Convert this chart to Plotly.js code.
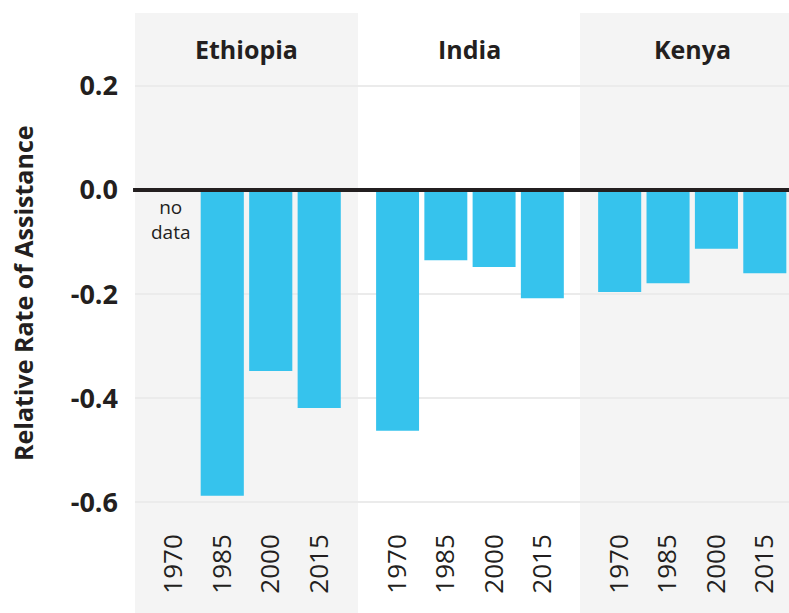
<!DOCTYPE html>
<html>
<head>
<meta charset="utf-8">
<script src="https://cdn.plot.ly/plotly-3.0.1.min.js"></script>
<style>
html,body{margin:0;padding:0;background:#fff;}
#chart{width:789px;height:613px;}
</style>
</head>
<body>
<div id="chart"></div>
<script>
// ---- data ----
const years = ['1970', '1985', '2000', '2015'];
const countries = ['Ethiopia', 'India', 'Kenya'];
const ethiopia = [null, -0.588, -0.348, -0.419];
const india = [-0.463, -0.135, -0.148, -0.208];
const kenya = [-0.196, -0.179, -0.113, -0.160];
const yTickVals = [0.2, 0.0, -0.2, -0.4, -0.6];
const yTickText = ['0.2', '0.0', '-0.2', '-0.4', '-0.6'];
const yTitle = 'Relative Rate of Assistance';
const noDataLabel = 'no<br>data';

// ---- styling ----
const FONT = '"Open Sans", Lato, sans-serif';
const INK = '#231f20';
const BAR = '#36c3ed';
const PANEL = '#f4f4f4';

const series = [ethiopia, india, kenya];
const axisIds = ['x', 'x2', 'x3'];
const W = 654; // plot width in px (789 - 135)
const H = 500; // plot height in px
const doms = [[0, 223 / W], [223 / W, 445 / W], [445 / W, 1]];
const ranges = [[-0.8, 3.8], [-0.82, 3.78], [-0.82, 3.5]];

const traces = series.map((vals, i) => ({
  type: 'bar',
  x: years,
  y: vals,
  xaxis: axisIds[i],
  yaxis: 'y',
  marker: {color: BAR, line: {width: 0}},
  hoverinfo: 'x+y',
  showlegend: false
}));

const layout = {
  width: 789,
  height: 613,
  margin: {l: 135, r: 0, t: 13, b: 100},
  paper_bgcolor: '#ffffff',
  plot_bgcolor: 'rgba(0,0,0,0)',
  bargap: 0.11,
  font: {family: FONT, color: INK},
  yaxis: {
    range: [-0.621, 0.3404],
    tickvals: yTickVals,
    ticktext: yTickText,
    tickfont: {family: FONT, size: 27, color: INK, weight: 'bold'},
    showgrid: true,
    gridcolor: '#ebebeb',
    gridwidth: 2,
    zeroline: false,
    showline: false,
    ticks: '',
    ticklabelstandoff: 16,
    anchor: 'x'
  },
  shapes: [],
  annotations: []
};

axisIds.forEach((id, i) => {
  const key = 'xaxis' + (i === 0 ? '' : (i + 1));
  layout[key] = {
    type: 'category',
    categoryorder: 'array',
    categoryarray: years,
    domain: doms[i],
    range: ranges[i],
    anchor: 'y',
    tickangle: -90,
    tickfont: {family: FONT, size: 26, color: INK},
    ticks: '',
    ticklabelstandoff: 15,
    showgrid: false,
    zeroline: false,
    showline: false,
    fixedrange: true
  };
  if (i !== 1) {
    layout.shapes.push({
      type: 'rect', layer: 'below',
      xref: 'paper', yref: 'paper',
      x0: doms[i][0], x1: doms[i][1],
      y0: -0.21, y1: 1,
      fillcolor: PANEL, line: {width: 0}
    });
  }
  layout.annotations.push({
    text: countries[i],
    xref: 'paper', yref: 'paper',
    x: (doms[i][0] + doms[i][1]) / 2 + (i === 2 ? 0.012 : 0),
    y: 0.928,
    xanchor: 'center', yanchor: 'middle',
    showarrow: false,
    font: {family: FONT, size: 25, color: INK, weight: 'bold'}
  });
});

// y-axis title (placed lower than the plot centre, as in the reference)
layout.annotations.push({
  text: yTitle,
  xref: 'paper', yref: 'paper',
  x: (23 - 135) / W, y: (513 - 293) / H,
  xanchor: 'center', yanchor: 'middle',
  textangle: -90,
  showarrow: false,
  font: {family: FONT, size: 25, color: INK, weight: 'bold'}
});

// zero line above bars
layout.shapes.push({
  type: 'line', layer: 'above',
  xref: 'paper', yref: 'y',
  x0: -0.003, x1: 1, y0: 0, y1: 0,
  line: {color: INK, width: 4}
});

// "no data" note for Ethiopia 1970 (category index 0 on the first x axis)
layout.annotations.push({
  text: noDataLabel,
  xref: 'x', yref: 'y',
  x: years.indexOf('1970') - 0.06, y: -0.057,
  xanchor: 'center', yanchor: 'middle',
  showarrow: false,
  align: 'center',
  font: {family: FONT, size: 19, color: INK}
});

Plotly.newPlot('chart', traces, layout, {displayModeBar: false, staticPlot: true});
</script>
</body>
</html>
